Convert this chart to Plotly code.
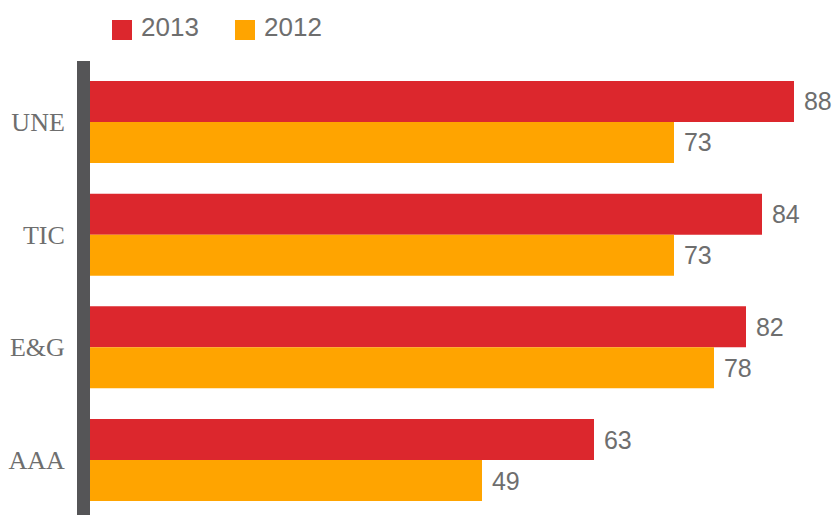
import plotly.graph_objects as go

# Survey scores per unit, two years
categories = ["UNE", "TIC", "E&G", "AAA"]
values_2013 = [88, 84, 82, 63]
values_2012 = [73, 73, 78, 49]
series_names = ["2013", "2012"]

RED = "#DC272D"
ORANGE = "#FFA400"
TEXT_GRAY = "#6E6E6E"

W, H = 832, 515
ML, MT = 90, 61
PW, PH = W - ML, H - MT

fig = go.Figure()
for name, vals, color in [(series_names[0], values_2013, RED),
                          (series_names[1], values_2012, ORANGE)]:
    fig.add_trace(go.Bar(
        y=categories, x=vals, name=name, orientation="h",
        marker=dict(color=color, line=dict(width=0)),
        text=["\u00a0" + str(v) for v in vals], textposition="outside",
        textfont=dict(family="Liberation Sans, Arial", size=25, color=TEXT_GRAY),
        cliponaxis=False, showlegend=False,
    ))


def px_x(x):
    return (x - ML) / PW


def px_y(y):
    return (H - y) / PH


# Legend: coloured squares with year labels across the top
legend_x = [112, 235]
for (name, color), lx in zip([(series_names[0], RED), (series_names[1], ORANGE)], legend_x):
    fig.add_shape(type="rect", xref="paper", yref="paper",
                  x0=px_x(lx), x1=px_x(lx + 20), y0=px_y(40), y1=px_y(20),
                  line=dict(width=0), fillcolor=color, layer="above")
    fig.add_annotation(text=name, xref="paper", yref="paper",
                       x=px_x(lx + 27), y=px_y(27),
                       xanchor="left", yanchor="middle", showarrow=False,
                       font=dict(family="Liberation Sans, Arial", size=26, color=TEXT_GRAY))

fig.update_layout(
    width=W, height=H,
    margin=dict(l=ML, r=0, t=MT, b=0),
    paper_bgcolor="white", plot_bgcolor="white",
    barmode="group", bargap=0.272, bargroupgap=0,
    showlegend=False,
    xaxis=dict(range=[0, PW / 8], visible=False, fixedrange=True),
    yaxis=dict(
        categoryorder="array", categoryarray=categories,
        range=[3.488, -0.541],
        showline=True, linewidth=13, linecolor="#555557",
        showgrid=False, zeroline=False, ticks="",
        ticklabelstandoff=7,
        tickfont=dict(family="Liberation Serif, Times New Roman", size=26, color=TEXT_GRAY),
    ),
)

fig.write_html("out.html")
